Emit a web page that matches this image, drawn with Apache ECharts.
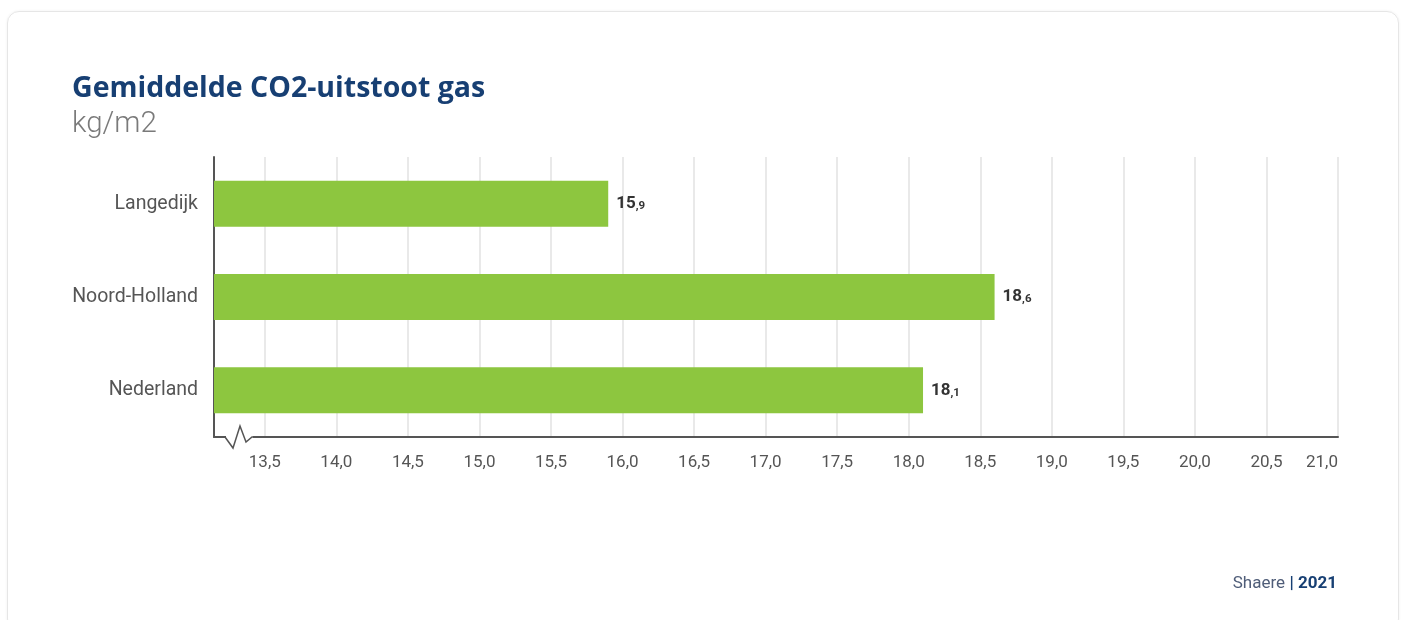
<!DOCTYPE html>
<html>
<head>
<meta charset="utf-8">
<script src="https://cdn.jsdelivr.net/npm/echarts@6/dist/echarts.min.js"></script>
<style>
  html, body { margin: 0; padding: 0; background: #ffffff; }
  #card { position: absolute; left: 7px; top: 11px; width: 1392px; height: 620px;
          border: 1px solid #e6e6e6; border-radius: 12px; box-shadow: 0 0 3px rgba(0,0,0,0.06); box-sizing: border-box; }
  #chart { position: absolute; left: 0; top: 0; width: 1407px; height: 620px; }
</style>
</head>
<body>
<div id="card"></div>
<div id="chart"></div>
<script>
const categories = ['Langedijk', 'Noord-Holland', 'Nederland'];
const values = [15.9, 18.6, 18.1];
const tickValues = [13.5, 14.0, 14.5, 15.0, 15.5, 16.0, 16.5, 17.0, 17.5, 18.0, 18.5, 19.0, 19.5, 20.0, 20.5, 21.0];
const axisMin = 13.145;
const axisMax = 21.0;
const titleText = 'Gemiddelde CO2-uitstoot gas';
const unitText = 'kg/m2';
const sourceText = 'Shaere';
const yearText = '2021';

const FONT = 'Roboto';
const chart = echarts.init(document.getElementById('chart'), null, { renderer: 'canvas' });

const option = {
  animation: false,
  backgroundColor: 'transparent',
  textStyle: { fontFamily: FONT },
  title: [{
    text: titleText,
    subtext: unitText,
    left: 72, top: 74,
    padding: 0,
    itemGap: 7,
    textStyle: { fontFamily: 'Open Sans', fontSize: 28.5, fontWeight: 'bold', color: '#173f73' },
    subtextStyle: { fontFamily: FONT, fontSize: 29.5, fontWeight: 300, color: '#7a7a7a' }
  }, {
    text: '{s|' + sourceText + '} {b|| ' + yearText + '}',
    right: 70, top: 575,
    padding: 0,
    textStyle: {
      fontWeight: 'normal',
      rich: {
        s: { fontFamily: FONT, fontSize: 17, fontWeight: 'normal', color: '#4f5d78' },
        b: { fontFamily: FONT, fontSize: 17, fontWeight: 'bold', color: '#173f73' }
      }
    }
  }],
  grid: { left: 214, right: 69, top: 157, bottom: 183, containLabel: false },
  xAxis: {
    type: 'value',
    min: axisMin, max: axisMax,
    axisLine: { show: true, onZero: false, lineStyle: { color: '#555555', width: 2 } },
    axisTick: { show: false, customValues: tickValues },
    axisLabel: {
      customValues: tickValues,
      margin: 17,
      alignMaxLabel: 'right',
      fontFamily: FONT, fontSize: 17, color: '#555555',
      formatter: v => v.toFixed(1).replace('.', ',')
    },
    splitLine: { show: true, lineStyle: { color: '#e9e9e9', width: 2 } }
  },
  yAxis: {
    type: 'category',
    data: categories,
    inverse: true,
    axisLine: { show: true, lineStyle: { color: '#555555', width: 2 } },
    axisTick: { show: false },
    axisLabel: { margin: 16, fontFamily: FONT, fontSize: 19.5, color: '#555555' },
    splitLine: { show: false }
  },
  series: [{
    type: 'bar',
    data: values,
    barWidth: 46,
    itemStyle: { color: '#8dc63f' },
    label: {
      show: true,
      position: 'right',
      distance: 8,
      formatter: p => {
        const parts = p.value.toFixed(1).split('.');
        return '{i|' + parts[0] + '}{d|,' + parts[1] + '}';
      },
      rich: {
        i: { fontFamily: FONT, fontSize: 17, fontWeight: 'bold', color: '#333333' },
        d: { fontFamily: FONT, fontSize: 11.5, fontWeight: 'bold', color: '#333333', padding: [5, 0, 0, 0] }
      }
    }
  }]
};
chart.setOption(option);

// axis-break zigzag decoration, positioned from the axis scale
const x0 = chart.convertToPixel({ xAxisIndex: 0 }, axisMin);
const rect = chart.getModel().getComponent('grid').coordinateSystem.getRect();
const y0 = rect.y + rect.height;
chart.setOption({
  graphic: [{
    type: 'rect', z: 100,
    shape: { x: x0 + 12, y: y0 - 3, width: 27, height: 6 },
    style: { fill: '#ffffff' }
  }, {
    type: 'polyline', z: 101,
    shape: { points: [[x0 + 11, y0], [x0 + 19, y0 + 11], [x0 + 26, y0 - 11], [x0 + 32, y0 + 5], [x0 + 38, y0], [x0 + 40, y0]] },
    style: { stroke: '#555555', lineWidth: 1.5, fill: null }
  }]
});
</script>
</body>
</html>
